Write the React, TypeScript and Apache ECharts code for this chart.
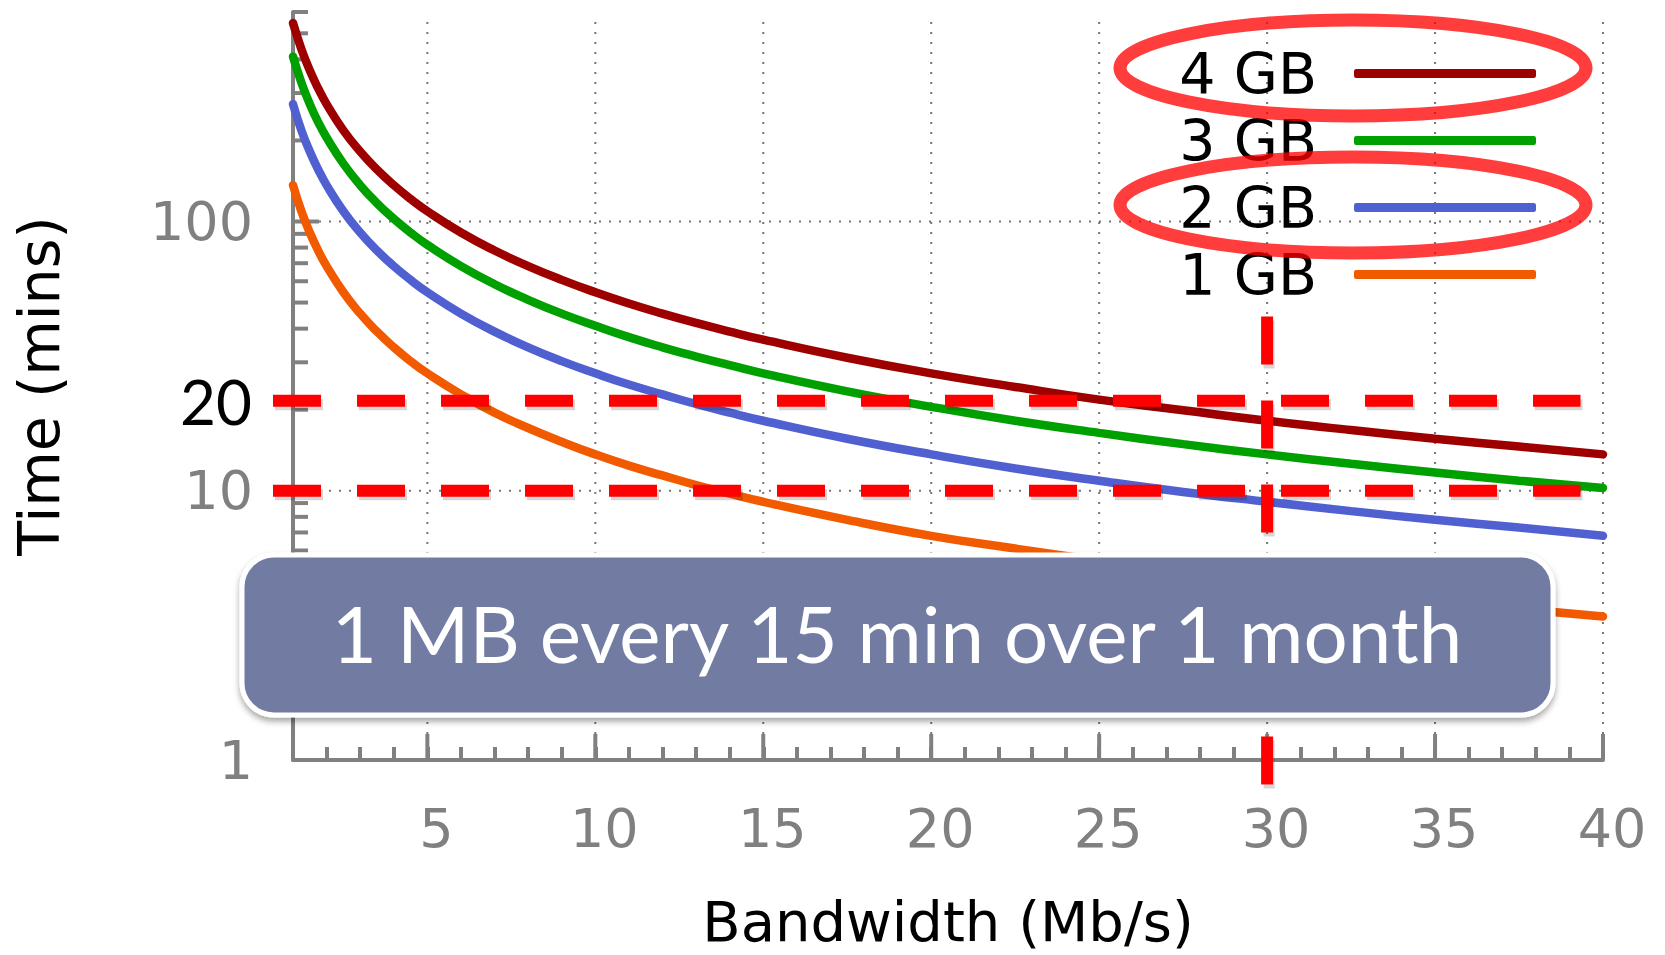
import React, { useEffect, useRef } from "react";
import * as echarts from "echarts";

// Bandwidth (Mb/s) sample points and transfer times (minutes)
const BANDWIDTH = [1, 1.25, 1.5, 1.75, 2, 2.5, 3, 3.5, 4, 4.5, 5, 6, 7, 8, 9, 10, 11, 12, 13, 14, 15, 17.5, 20, 22.5, 25, 27.5, 30, 32.5, 35, 37.5, 40];
const TIME_4GB = [546, 437, 364, 312, 273, 218, 182, 156, 136.5, 121.3, 109.2, 91, 78, 68.3, 60.7, 54.6, 49.6, 45.5, 42, 39, 36.4, 31.2, 27.3, 24.3, 21.8, 19.9, 18.2, 16.8, 15.6, 14.6, 13.65];
const TIME_3GB = [410, 328, 273, 234, 205, 164, 136.5, 117, 102.4, 91, 81.9, 68.3, 58.5, 51.2, 45.5, 41, 37.2, 34.1, 31.5, 29.3, 27.3, 23.4, 20.5, 18.2, 16.4, 14.9, 13.65, 12.6, 11.7, 10.9, 10.24];
const TIME_2GB = [273, 218, 182, 156, 136.5, 109.2, 91, 78, 68.3, 60.7, 54.6, 45.5, 39, 34.1, 30.3, 27.3, 24.8, 22.8, 21, 19.5, 18.2, 15.6, 13.65, 12.1, 10.9, 9.9, 9.1, 8.4, 7.8, 7.3, 6.8];
const TIME_1GB = [136.5, 109.2, 91, 78, 68.3, 54.6, 45.5, 39, 34.1, 30.3, 27.3, 22.8, 19.5, 17.1, 15.2, 13.65, 12.4, 11.4, 10.5, 9.75, 9.1, 7.8, 6.8, 6.1, 5.5, 5.0, 4.55, 4.2, 3.9, 3.64, 3.41];
const SERIES_NAMES = ["4 GB", "3 GB", "2 GB", "1 GB"];
const SERIES_COLORS = ["#9E0000", "#00A000", "#5060D0", "#F25A00"];

// Axis decorations
const X_MAJOR = [5, 10, 15, 20, 25, 30, 35, 40];
const Y_MAJOR = [1, 10, 100];
const Y_MINOR = [2, 3, 4, 5, 6, 7, 8, 9, 20, 30, 40, 50, 60, 70, 80, 90, 200, 300, 400, 500, 600];
const Y_GRID = [10, 100];

// Annotations (data units)
const REF_Y = [21.6, 10];
const REF_Y_LABEL = "20";
const REF_X = 30;
const BOX_TEXT = "1 MB every 15 min over 1 month";

const X_MIN = 1;
const X_MAX = 40;
const Y_MIN = 1;
const Y_MAX = 600;

export default function App() {
  const ref = useRef<HTMLDivElement>(null);

  useEffect(() => {
    if (!ref.current) return;
    const chart = echarts.init(ref.current, undefined, { renderer: "svg" });
    const grey = "#808080";
    const seriesData = [TIME_4GB, TIME_3GB, TIME_2GB, TIME_1GB];

    const lineSeries = SERIES_NAMES.map((name, i) => ({
      name,
      type: "line",
      data: BANDWIDTH.map((b, j) => [b, seriesData[i][j]]),
      smooth: true,
      showSymbol: false,
      symbol: "none",
      color: SERIES_COLORS[i],
      lineStyle: { width: 8.5, color: SERIES_COLORS[i], cap: "round" },
      z: 3,
    }));

    const decoSeries = {
      type: "custom",
      name: "deco",
      coordinateSystem: "cartesian2d",
      data: [[X_MIN, Y_MIN]],
      clip: false,
      silent: true,
      z: 1,
      renderItem: (params: any, api: any) => {
        const children: any[] = [];
        const top = api.coord([X_MIN, Y_MAX]);
        const right = api.coord([X_MAX, Y_MIN]);
        X_MAJOR.forEach((x) => {
          const p = api.coord([x, Y_MIN]);
          children.push({
            type: "line",
            shape: { x1: p[0], y1: p[1] - 26, x2: p[0], y2: top[1] + 8 },
            style: { stroke: "#777", lineWidth: 2, lineDash: [2, 8] },
          });
          children.push({
            type: "line",
            shape: { x1: p[0], y1: p[1], x2: p[0], y2: p[1] - 26 },
            style: { stroke: grey, lineWidth: 4 },
          });
        });
        Y_GRID.forEach((y) => {
          const p = api.coord([X_MIN, y]);
          children.push({
            type: "line",
            shape: { x1: p[0] + 26, y1: p[1], x2: right[0], y2: p[1] },
            style: { stroke: "#777", lineWidth: 2, lineDash: [2, 8] },
          });
        });
        Y_MAJOR.forEach((y) => {
          const p = api.coord([X_MIN, y]);
          children.push({
            type: "line",
            shape: { x1: p[0], y1: p[1], x2: p[0] + 26, y2: p[1] },
            style: { stroke: grey, lineWidth: 4 },
          });
        });
        Y_MINOR.forEach((y) => {
          const p = api.coord([X_MIN, y]);
          children.push({
            type: "line",
            shape: { x1: p[0], y1: p[1], x2: p[0] + 15, y2: p[1] },
            style: { stroke: grey, lineWidth: 4 },
          });
        });
        return { type: "group", children };
      },
    };

    const redStyle = { stroke: "#FF0000", lineWidth: 12, lineDash: [48, 36] };
    const shadowStyle = { stroke: "rgba(0,0,0,0.16)", lineWidth: 11, lineDash: [48, 36] };

    const annotSeries = {
      type: "custom",
      name: "annot",
      coordinateSystem: "cartesian2d",
      data: [[X_MIN, Y_MIN]],
      clip: false,
      silent: true,
      z: 5,
      renderItem: (params: any, api: any) => {
        const children: any[] = [];
        const segs: number[][] = [];
        REF_Y.forEach((y) => {
          const a = api.coord([0.405, y]);
          const b = api.coord([39.33, y]);
          segs.push([a[0], a[1], b[0], b[1]]);
        });
        const v1 = api.coord([REF_X, 44.4]);
        const v2 = api.coord([REF_X, 0.805]);
        segs.push([v1[0], v1[1], v2[0], v2[1]]);
        segs.forEach((s) => {
          children.push({
            type: "line",
            shape: { x1: s[0] + 2, y1: s[1] + 4, x2: s[2] + 2, y2: s[3] + 4 },
            style: shadowStyle,
          });
        });
        segs.forEach((s) => {
          children.push({
            type: "line",
            shape: { x1: s[0], y1: s[1], x2: s[2], y2: s[3] },
            style: redStyle,
          });
        });
        const lp = api.coord([X_MIN, REF_Y[0]]);
        children.push({
          type: "text",
          style: {
            text: REF_Y_LABEL,
            x: lp[0] - 41,
            y: lp[1],
            align: "right",
            verticalAlign: "middle",
            fontFamily: "Lato",
            fontSize: 62,
            fill: "#000",
          },
        });
        return { type: "group", children };
      },
    };

    chart.setOption({
      animation: false,
      backgroundColor: "#ffffff",
      grid: {
        left: 293,
        top: 12,
        width: 1310,
        height: 748,
        containLabel: false,
        outerBoundsMode: "none",
      },
      legend: {
        data: SERIES_NAMES,
        orient: "vertical",
        right: 129,
        top: 40,
        padding: 0,
        itemGap: 0,
        itemWidth: 182,
        itemHeight: 9,
        align: "right",
        icon: "roundRect",
        selectedMode: false,
        textStyle: {
          fontFamily: "DejaVu Sans",
          fontSize: 57,
          color: "#000",
          lineHeight: 67,
          padding: [0, 32, 0, 0],
        },
      },
      xAxis: {
        type: "value",
        min: X_MIN,
        max: X_MAX,
        interval: 1,
        name: "Bandwidth (Mb/s)",
        nameLocation: "middle",
        nameGap: 161,
        nameTextStyle: {
          fontFamily: "DejaVu Sans",
          fontSize: 56,
          lineHeight: 56,
          color: "#000",
          verticalAlign: "middle",
        },
        axisLine: { lineStyle: { color: grey, width: 4 } },
        axisTick: { inside: true, length: 13, lineStyle: { color: grey, width: 4 } },
        axisLabel: {
          fontFamily: "DejaVu Sans",
          fontSize: 54,
          color: grey,
          margin: 41,
          padding: [0, 0, 0, 18],
          formatter: (v: number) => (v % 5 === 0 ? String(v) : ""),
        },
        splitLine: { show: false },
      },
      yAxis: {
        type: "log",
        logBase: 10,
        min: Y_MIN,
        max: Y_MAX,
        name: "Time (mins)",
        nameLocation: "middle",
        nameGap: 254,
        nameTextStyle: { fontFamily: "DejaVu Sans", fontSize: 57, color: "#000", verticalAlign: "middle" },
        axisLine: { lineStyle: { color: grey, width: 4 } },
        axisTick: { show: false },
        axisLabel: {
          fontFamily: "DejaVu Sans",
          fontSize: 54,
          color: grey,
          margin: 40,
          formatter: (v: number) => (Y_MAJOR.indexOf(Math.round(v)) >= 0 ? String(Math.round(v)) : ""),
        },
        splitLine: { show: false },
        minorTick: { show: false },
      },
      series: [decoSeries, ...lineSeries, annotSeries],
      graphic: [
        {
          type: "rect",
          z: 100,
          shape: { x: 242, y: 555, width: 1311, height: 160, r: 32 },
          style: {
            fill: "#727BA2",
            stroke: "#ffffff",
            lineWidth: 5,
            shadowBlur: 6,
            shadowOffsetY: 4,
            shadowColor: "rgba(0,0,0,0.35)",
          },
        },
        {
          type: "text",
          z: 101,
          x: 897,
          y: 633,
          style: {
            text: BOX_TEXT,
            fontFamily: "Lato",
            fontSize: 78,
            fill: "#ffffff",
            align: "center",
            verticalAlign: "middle",
          },
        },
        {
          type: "ellipse",
          z: 100,
          shape: { cx: 1353, cy: 68, rx: 233, ry: 48 },
          style: { fill: "none", stroke: "#FF0000", lineWidth: 13, opacity: 0.76 },
        },
        {
          type: "ellipse",
          z: 100,
          shape: { cx: 1353, cy: 205, rx: 233, ry: 48 },
          style: { fill: "none", stroke: "#FF0000", lineWidth: 13, opacity: 0.76 },
        },
      ],
    });

    return () => chart.dispose();
  }, []);

  return (
    <div
      ref={ref}
      style={{ position: "fixed", left: 0, top: 0, width: 1665, height: 955, background: "#fff" }}
    />
  );
}
